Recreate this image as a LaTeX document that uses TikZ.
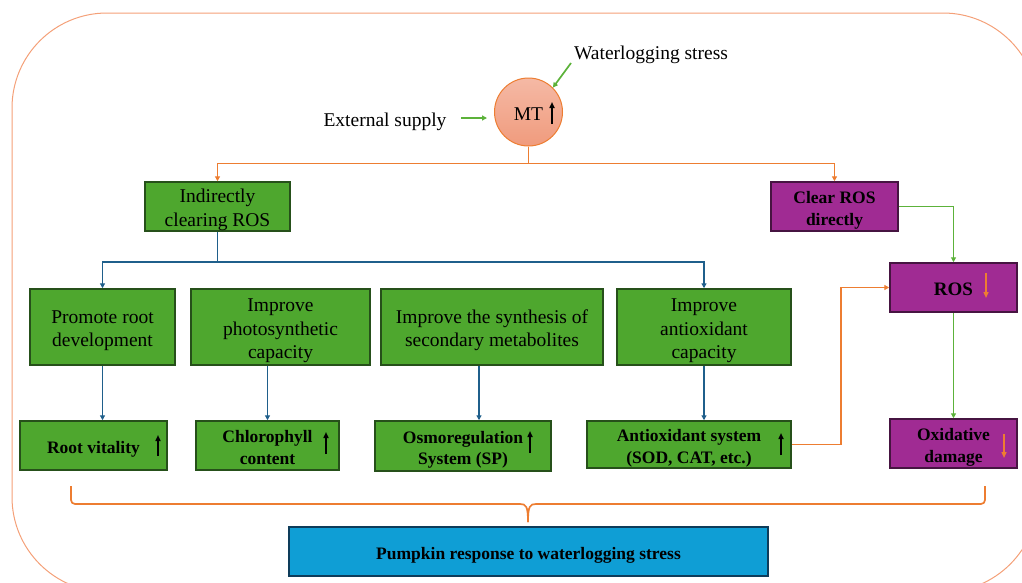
\documentclass[tikz,border=0pt]{standalone}
\usepackage{fontspec}
\setmainfont{Liberation Serif}
\usetikzlibrary{arrows.meta,calc}
\definecolor{boxgreen}{RGB}{78,167,46}
\definecolor{darkgreen}{RGB}{38,80,26}
\definecolor{boxpurple}{RGB}{160,43,147}
\definecolor{darkpurple}{RGB}{70,20,65}
\definecolor{boxblue}{RGB}{15,158,213}
\definecolor{darkblue}{RGB}{14,60,90}
\definecolor{lineorange}{RGB}{237,125,49}
\definecolor{lineblue}{RGB}{31,95,139}
\definecolor{linegreen}{RGB}{92,178,58}
\definecolor{frameorange}{RGB}{244,160,120}
\definecolor{mttop}{RGB}{245,185,165}
\definecolor{mtbot}{RGB}{240,155,125}
\newcommand\dn[1]{\raisebox{-3.5pt}[\height][\depth]{\begin{tabular}{@{}c@{}}#1\end{tabular}}}
\tikzset{
  tip/.style={-{Triangle[length=5pt,width=5pt]}},
  regtext/.style={font=\fontsize{19.5}{23.5}\selectfont},
  boldtext/.style={font=\fontsize{17.5}{21.5}\selectfont\bfseries},
  gbox/.style={draw=darkgreen,fill=boxgreen,line width=1.5pt,align=center,inner sep=0pt,text=black},
  pbox/.style={draw=darkpurple,fill=boxpurple,line width=1.5pt,align=center,inner sep=0pt,text=black},
  oline/.style={draw=lineorange,line width=1.7pt},
  bline/.style={draw=lineblue,line width=1.7pt},
  gline/.style={draw=linegreen,line width=1.7pt},
  upar/.style={draw=black,line width=1.6pt,-{Triangle[length=6pt,width=5pt]}},
  oar/.style={draw=lineorange,line width=1.4pt,-{Triangle[length=6pt,width=5pt]}},
}
\begin{document}
\begin{tikzpicture}[x=1pt,y=-1pt]
\useasboundingbox (0,0) rectangle (1022,582);
\clip (0,0) rectangle (1022,582);
% outer frame
\draw[frameorange,line width=1pt,rounded corners=95pt] (12,13) rectangle (1038,592);

% MT circle
\node[circle,draw=lineorange,line width=1pt,top color=mttop,bottom color=mtbot,minimum size=68pt,inner sep=0pt,regtext] (mt) at (528.5,112) {\dn{MT\hspace{14pt}}};
\draw[upar] (552,124) -- (552,102);
\node[regtext,anchor=center] (ws) at (651,55) {Waterlogging stress};
\node[regtext,anchor=center] (es) at (385,122) {External supply};
\draw[gline,tip] ($(es.east)+(11,-4)$) -- ($(mt.west)+(-7,6)$);
\draw[gline,tip] (571,63) -- (mt.45);

% level 1
\node[gbox,regtext,minimum width=145pt,minimum height=49pt] (ind) at (217.5,206.5) {\dn{Indirectly\\clearing ROS}};
\node[pbox,boldtext,minimum width=127pt,minimum height=49pt] (clr) at (834.5,206.5) {\dn{Clear ROS\\directly}};
\draw[oline] (mt.south) -- ++(0,17) coordinate (j1);
\draw[oline,tip] (j1) -| (ind.north);
\draw[oline,tip] (j1) -| (clr.north);

% level 2
\node[gbox,regtext,minimum width=145pt,minimum height=76pt] (prom) at (102.5,327) {\dn{Promote root\\development}};
\node[gbox,regtext,minimum width=179pt,minimum height=76pt] (photo) at (280.5,327) {\dn{Improve\\photosynthetic\\capacity}};
\node[gbox,regtext,minimum width=222pt,minimum height=76pt] (synth) at (492,327) {\dn{Improve the synthesis of\\secondary metabolites}};
\node[gbox,regtext,minimum width=174pt,minimum height=76pt] (anti) at (704,327) {\dn{Improve\\antioxidant\\capacity}};
\draw[bline] (ind.south) -- ++(0,30) coordinate (j2);
\draw[bline,tip] (j2) -| (prom.north);
\draw[bline,tip] (j2) -| (anti.north);

% level 3
\node[gbox,boldtext,minimum width=147pt,minimum height=49pt] (rv) at (93.5,445.5) {\dn{Root vitality}};
\node[gbox,boldtext,minimum width=143pt,minimum height=49pt] (chl) at (267.5,445.5) {\dn{Chlorophyll\\content}};
\node[gbox,boldtext,minimum width=176pt,minimum height=50pt] (osm) at (463,446) {\dn{Osmoregulation\\System (SP)}};
\node[gbox,boldtext,minimum width=204pt,minimum height=47pt] (asys) at (689,444.5) {\dn{Antioxidant system\\(SOD, CAT, etc.)}};
\draw[upar] (158,456) -- (158,435);
\draw[upar] (326,454) -- (326,432);
\draw[upar] (530,453) -- (530,431);
\draw[upar] (781,455) -- (781,433);

\draw[bline,tip] (prom.south) -- (prom.south |- rv.north);
\draw[bline,tip] (chl.north |- photo.south) -- (chl.north);
\draw[bline,tip] ($(synth.south)+(-13,0)$) -- ($(synth.south |- osm.north)+(-13,0)$);
\draw[bline,tip] (anti.south) -- (anti.south |- asys.north);

% right column
\node[pbox,minimum width=127pt,minimum height=49pt,font=\fontsize{19}{22}\selectfont\bfseries] (ros) at (953.5,287.5) {\dn{ROS}};
\node[pbox,boldtext,minimum width=127pt,minimum height=49pt] (oxd) at (953.5,443.5) {\dn{Oxidative\\damage}};
\draw[oar] (986,273) -- (986,298);
\draw[oar] (1004,434) -- (1004,458);
\draw[gline,tip] (clr.east) -| (ros.north);
\draw[gline,tip] (ros.south) -- (oxd.north);
\draw[oline,tip] (asys.east) -- ++(49,0) |- (ros.west);

% bottom
\node[draw=darkblue,fill=boxblue,line width=1.5pt,minimum width=479pt,minimum height=49pt,inner sep=0pt,boldtext] (pump) at (528.5,551.5) {\dn{Pumpkin response to waterlogging stress}};
\draw[oline,rounded corners=4pt] (71,486) -- (71,504) -- (520,504);
\draw[oline,rounded corners=4pt] (536,504) -- (985,504) -- (985,486);
\draw[oline] (520,504) .. controls (526,504) and (528,506) .. (528,522) coordinate (cusp);
\draw[oline] (536,504) .. controls (530,504) and (528,506) .. (cusp);
\end{tikzpicture}
\end{document}
